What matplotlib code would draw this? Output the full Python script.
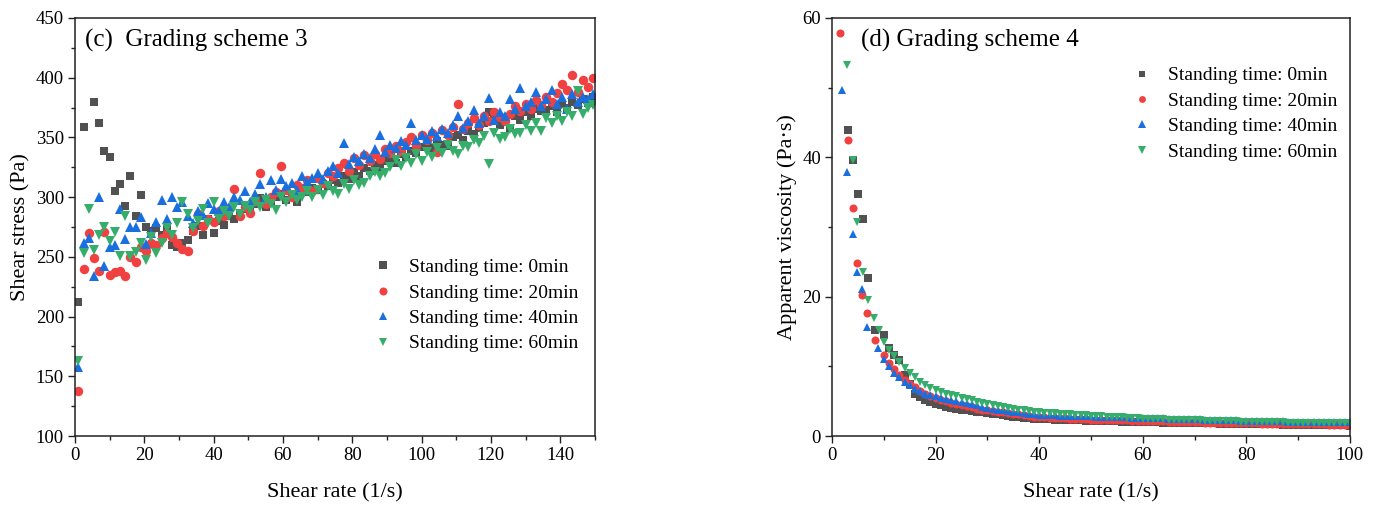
import numpy as np
import matplotlib
matplotlib.use("Agg")
import matplotlib.pyplot as plt
from matplotlib.ticker import MultipleLocator

plt.rcParams['font.family'] = ['Liberation Serif', 'DejaVu Serif']
plt.rcParams['mathtext.fontset'] = 'stix'

# ---------------- (c) Grading scheme 3 : shear stress vs shear rate ----------------
rate_c = [1.0, 2.5, 4.0, 5.5, 7.0, 8.5, 10.0, 11.5, 13.0, 14.5,
          16.0, 17.5, 19.0, 20.5, 22.0, 23.5, 25.0, 26.5, 28.0, 29.5,
          31.0, 32.5, 34.0, 35.5, 37.0, 38.5, 40.0, 41.5, 43.0, 44.5,
          46.0, 47.5, 49.0, 50.5, 52.0, 53.5, 55.0, 56.5, 58.0, 59.5,
          61.0, 62.5, 64.0, 65.5, 67.0, 68.5, 70.0, 71.5, 73.0, 74.5,
          76.0, 77.5, 79.0, 80.5, 82.0, 83.5, 85.0, 86.5, 88.0, 89.5,
          91.0, 92.5, 94.0, 95.5, 97.0, 98.5, 100.0, 101.5, 103.0, 104.5,
          106.0, 107.5, 109.0, 110.5, 112.0, 113.5, 115.0, 116.5, 118.0, 119.5,
          121.0, 122.5, 124.0, 125.5, 127.0, 128.5, 130.0, 131.5, 133.0, 134.5,
          136.0, 137.5, 139.0, 140.5, 142.0, 143.5, 145.0, 146.5, 148.0, 149.5]

stress_0min = [212, 359, np.nan, 380, 362, 339, 334, 305, 311, 293,
               318, 284, 302, 275, 272, 274, 268, 274, 260, 258,
               262, 264, 272, 276, 268, 282, 270, 280, 277, 284,
               282, 286, 290, 288, 294, 299, 292, 297, 300, 303,
               298, 301, 296, 305, 304, 308, 306, 311, 309, 314,
               312, 318, 315, 321, 318, 324, 322, 327, 325, 330,
               333, 329, 336, 334, 339, 337, 342, 345, 341, 347,
               344, 343, 350, 352, 348, 355, 353, 358, 362, 371,
               366, 360, 364, 358, 368, 365, 371, 368, 374, 372,
               373, 376, 371, 378, 375, 380, 377, 382, 379, 384]

stress_20min = [138, 240, 270, 249, 238, 271, 235, 237, 238, 234,
                250, 246, 258, 255, 262, 260, 266, 270, 267, 262,
                257, 255, 272, 286, 276, 282, 279, 288, 284, 290,
                307, 284, 292, 287, 297, 320, 294, 300, 304, 326,
                306, 300, 310, 308, 314, 305, 316, 312, 320, 318,
                324, 329, 322, 333, 327, 335, 330, 336, 332, 340,
                337, 343, 339, 346, 350, 344, 352, 348, 354, 338,
                356, 352, 359, 378, 357, 362, 366, 360, 368, 364,
                371, 367, 364, 370, 376, 372, 378, 374, 381, 377,
                384, 380, 387, 395, 390, 402, 388, 398, 392, 400]

stress_40min = [158, 262, 266, 234, 300, 242, 258, 260, 290, 265,
                275, 275, 283, 261, 270, 279, 298, 282, 300, 292,
                296, 284, 278, 288, 285, 295, 290, 288, 296, 292,
                300, 298, 305, 296, 303, 311, 300, 314, 306, 315,
                309, 312, 306, 318, 313, 316, 320, 315, 322, 326,
                320, 345, 328, 334, 330, 336, 333, 340, 352, 338,
                344, 341, 347, 344, 362, 348, 352, 349, 355, 351,
                357, 354, 360, 368, 358, 364, 373, 362, 368, 383,
                365, 371, 368, 382, 374, 391, 376, 380, 388, 376,
                382, 390, 378, 384, 374, 386, 380, 384, 382, 386]

stress_60min = [163, 253, 290, 256, 268, 275, 263, 271, 251, 284,
                251, 254, 262, 247, 267, 253, 262, 274, 268, 278,
                296, 286, 274, 280, 290, 278, 296, 282, 288, 284,
                292, 286, 293, 289, 296, 292, 298, 294, 289, 300,
                296, 302, 298, 300, 305, 300, 306, 302, 309, 305,
                303, 311, 307, 314, 310, 312, 318, 321, 318, 320,
                325, 331, 326, 333, 329, 336, 330, 338, 334, 341,
                337, 344, 339, 336, 343, 342, 348, 345, 351, 328,
                354, 349, 350, 357, 353, 354, 360, 355, 362, 355,
                366, 362, 368, 364, 371, 368, 389, 370, 375, 377]

# ---------------- (d) Grading scheme 4 : apparent viscosity vs shear rate ----------------
rate_d_tail = list(range(10, 101))

rate_d_0min = [3.0, 4.1, 5.0, 6.0, 6.9, 8.3] + rate_d_tail
visc_0min = [43.9, 39.6, 34.7, 31.1, 22.7, 15.2,
             14.5, 12.6, 11.6, 10.9, 8.8, 7.4, 6.0, 5.6, 5.2, 4.9,
             4.6, 4.4, 4.2, 4.05, 3.9, 3.8, 3.7, 3.6, 3.5, 3.4,
             3.3, 3.2, 3.1, 3.0, 2.9, 2.8, 2.7, 2.6, 2.55, 2.5,
             2.45, 2.42, 2.39, 2.36, 2.33, 2.3, 2.28, 2.26, 2.24, 2.22,
             2.2, 2.18, 2.16, 2.14, 2.12, 2.1, 2.08, 2.06, 2.04, 2.02,
             2.0, 1.98, 1.97, 1.95, 1.94, 1.92, 1.91, 1.89, 1.88, 1.86,
             1.85, 1.84, 1.82, 1.81, 1.8, 1.78, 1.77, 1.76, 1.74, 1.73,
             1.72, 1.71, 1.7, 1.69, 1.68, 1.67, 1.66, 1.65, 1.64, 1.63,
             1.62, 1.61, 1.6, 1.59, 1.58, 1.57, 1.56, 1.55, 1.54, 1.52, 1.5]

rate_d_20min = [1.5, 3.0, 4.0, 4.9, 5.7, 6.7, 8.3] + rate_d_tail
visc_20min = [57.8, 42.5, 32.8, 24.9, 20.2, 17.6, 13.8,
              11.6, 10.5, 9.6, 8.8, 8.1, 7.5, 7.0, 6.5, 6.0, 5.7,
              5.4, 5.2, 5.0, 4.8, 4.6, 4.4, 4.25, 4.1, 3.95, 3.8,
              3.7, 3.6, 3.5, 3.4, 3.3, 3.2, 3.1, 3.0, 2.9, 2.8,
              2.7, 2.67, 2.64, 2.6, 2.57, 2.54, 2.5, 2.47, 2.44, 2.4,
              2.37, 2.35, 2.33, 2.31, 2.29, 2.27, 2.25, 2.23, 2.21, 2.19,
              2.17, 2.15, 2.13, 2.11, 2.09, 2.07, 2.05, 2.03, 2.01, 1.99,
              1.97, 1.96, 1.94, 1.93, 1.91, 1.9, 1.88, 1.87, 1.85, 1.84,
              1.82, 1.81, 1.8, 1.79, 1.78, 1.76, 1.75, 1.74, 1.73, 1.72,
              1.71, 1.7, 1.69, 1.68, 1.67, 1.66, 1.65, 1.64, 1.63, 1.62, 1.61]

rate_d_40min = [1.9, 2.8, 4.0, 4.9, 5.7, 6.7, 8.9] + rate_d_tail
visc_40min = [49.6, 37.9, 29.0, 23.5, 21.1, 15.7, 12.6,
              11.0, 10.0, 9.1, 8.4, 7.8, 7.3, 6.8, 6.4, 6.1, 5.9,
              5.7, 5.5, 5.3, 5.15, 5.0, 4.85, 4.7, 4.55, 4.4, 4.2,
              4.0, 3.9, 3.8, 3.7, 3.6, 3.5, 3.4, 3.3, 3.2, 3.1,
              3.02, 3.0, 2.98, 2.96, 2.94, 2.92, 2.9, 2.88, 2.86, 2.84,
              2.82, 2.8, 2.78, 2.76, 2.74, 2.72, 2.7, 2.68, 2.65, 2.62,
              2.6, 2.58, 2.56, 2.54, 2.52, 2.5, 2.48, 2.46, 2.44, 2.42,
              2.4, 2.38, 2.36, 2.34, 2.32, 2.3, 2.28, 2.26, 2.24, 2.22,
              2.2, 2.18, 2.17, 2.15, 2.14, 2.12, 2.11, 2.09, 2.08, 2.06,
              2.05, 2.04, 2.03, 2.02, 2.01, 2.0, 1.99, 1.98, 1.97, 1.96, 1.95]

rate_d_60min = [2.8, 4.1, 4.9, 6.0, 6.9, 8.1, 9.0] + rate_d_tail
visc_60min = [53.3, 39.6, 30.7, 23.6, 19.5, 16.9, 15.2,
              13.5, 12.4, 11.5, 10.6, 9.8, 9.0, 8.4, 7.8, 7.3, 6.9,
              6.6, 6.3, 6.1, 5.9, 5.7, 5.5, 5.3, 5.1, 4.9, 4.75,
              4.6, 4.45, 4.3, 4.2, 4.05, 3.95, 3.8, 3.7, 3.6, 3.5,
              3.4, 3.35, 3.3, 3.25, 3.2, 3.15, 3.1, 3.05, 3.0, 2.95,
              2.9, 2.86, 2.82, 2.78, 2.74, 2.7, 2.66, 2.62, 2.58, 2.54,
              2.5, 2.47, 2.45, 2.42, 2.4, 2.37, 2.35, 2.32, 2.3, 2.27,
              2.25, 2.23, 2.21, 2.19, 2.17, 2.15, 2.13, 2.11, 2.09, 2.07,
              2.05, 2.04, 2.02, 2.01, 2.0, 1.98, 1.97, 1.95, 1.94, 1.92,
              1.9, 1.89, 1.88, 1.87, 1.86, 1.85, 1.84, 1.83, 1.82, 1.81, 1.8]

labels = ['Standing time: 0min', 'Standing time: 20min',
          'Standing time: 40min', 'Standing time: 60min']
colors = ['#515151', '#F14040', '#1A6FDF', '#37AD6B']
markers = ['s', 'o', '^', 'v']

fig = plt.figure(figsize=(13.81, 5.07), dpi=100)
ax1 = fig.add_axes([0.0543, 0.140, 0.3765, 0.8245])
ax2 = fig.add_axes([0.6025, 0.140, 0.3750, 0.8245])

tick_fs = 13.5
label_fs = 16
legend_fs = 14
title_fs = 18

series_c = [stress_0min, stress_20min, stress_40min, stress_60min]
sizes_c = [6.3, 6.8, 7.2, 7.2]
for y, c, m, lab, ms in zip(series_c, colors, markers, labels, sizes_c):
    ax1.plot(rate_c, y, linestyle='none', marker=m, markersize=ms, color=c,
             markeredgewidth=0, label=lab)

series_d = [(rate_d_0min, visc_0min), (rate_d_20min, visc_20min),
            (rate_d_40min, visc_40min), (rate_d_60min, visc_60min)]
sizes_d = [5.4, 5.8, 6.2, 6.2]
for (x, y), c, m, lab, ms in zip(series_d, colors, markers, labels, sizes_d):
    ax2.plot(x, y, linestyle='none', marker=m, markersize=ms, color=c,
             markeredgewidth=0, label=lab, clip_on=True)

ax1.set_xlim(0, 150)
ax1.set_ylim(100, 450)
ax1.xaxis.set_major_locator(MultipleLocator(20))
ax1.xaxis.set_minor_locator(MultipleLocator(10))
ax1.yaxis.set_major_locator(MultipleLocator(50))
ax1.yaxis.set_minor_locator(MultipleLocator(25))

ax2.set_xlim(0, 100)
ax2.set_ylim(0, 60)
ax2.xaxis.set_major_locator(MultipleLocator(20))
ax2.xaxis.set_minor_locator(MultipleLocator(10))
ax2.yaxis.set_major_locator(MultipleLocator(20))
ax2.yaxis.set_minor_locator(MultipleLocator(10))

for ax in (ax1, ax2):
    for sp in ax.spines.values():
        sp.set_linewidth(1.1)
        sp.set_color('#222222')
    ax.tick_params(which='both', direction='out', top=False, right=False,
                   color='#222222', width=1.0, labelsize=tick_fs, pad=3)
    ax.tick_params(which='major', length=5)
    ax.tick_params(which='minor', length=3)
    ax.set_xlabel('Shear rate (1/s)', fontsize=label_fs)

ax1.set_ylabel('Shear stress (Pa)', fontsize=label_fs)
ax2.set_ylabel('Apparent viscosity (Pa·s)', fontsize=label_fs)
ax1.yaxis.set_label_coords(-0.085, 0.5)
ax2.yaxis.set_label_coords(-0.068, 0.5)
ax1.xaxis.set_label_coords(0.5, -0.112)
ax2.xaxis.set_label_coords(0.5, -0.112)

ax1.text(0.019, 0.947, '(c)  Grading scheme 3', transform=ax1.transAxes,
         fontsize=title_fs, ha='left', va='center')
ax2.text(0.056, 0.947, '(d) Grading scheme 4', transform=ax2.transAxes,
         fontsize=title_fs, ha='left', va='center')

ax1.legend(loc='upper left', bbox_to_anchor=(0.555, 0.443), frameon=False,
           fontsize=legend_fs, handlelength=1.2, handletextpad=0.75,
           labelspacing=0.4, borderaxespad=0, markerscale=0.85)
ax2.legend(loc='upper left', bbox_to_anchor=(0.56, 0.902), frameon=False,
           fontsize=legend_fs, handlelength=1.2, handletextpad=0.75,
           labelspacing=0.4, borderaxespad=0, markerscale=0.85)

fig.savefig('out.png', dpi=100)
